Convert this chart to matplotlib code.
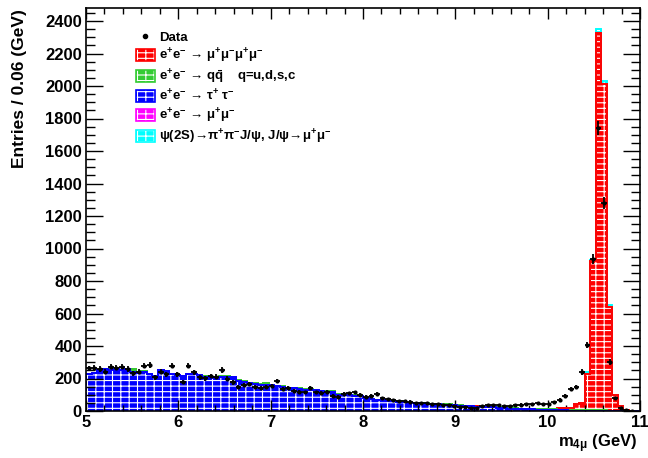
import matplotlib
matplotlib.use("Agg")
import matplotlib.pyplot as plt
import numpy as np
from matplotlib.patches import Patch
from matplotlib.lines import Line2D
from matplotlib.legend_handler import HandlerTuple
from matplotlib.ticker import MultipleLocator

plt.rcParams["font.family"] = ["Liberation Sans", "DejaVu Sans"]
plt.rcParams["font.weight"] = "bold"
plt.rcParams["mathtext.default"] = "regular"
plt.rcParams["hatch.color"] = "white"
plt.rcParams["hatch.linewidth"] = 0.8

# 100 bins of 0.06 GeV from 5 to 11 GeV
m_lo, m_hi, n_bins = 5.0, 11.0, 100

data = [
    262, 267, 258, 242, 272, 267, 272, 258, 232, 242,
    279, 283, 207, 242, 226, 279, 226, 177, 279, 238,
    207, 201, 215, 211, 252, 200, 176, 150, 160, 164,
    150, 140, 145, 156, 185, 135, 140, 125, 119, 115,
    140, 115, 110, 119, 94, 88, 105, 109, 115, 100,
    88, 95, 105, 80, 74, 66, 62, 60, 58, 47,
    47, 47, 45, 43, 39, 37, 30, 27, 27, 16,
    16, 31, 37, 37, 35, 30, 28, 35, 40, 42,
    45, 48, 45, 45, 55, 70, 95, 135, 150, 240,
    406, 935, 1741, 1280, 302, 80, 18, 5, 2, 0,
]
tautau = [
    225, 232, 250, 258, 255, 260, 252, 258, 238, 235,
    240, 225, 215, 250, 245, 225, 220, 215, 228, 225,
    220, 212, 208, 205, 210, 212, 208, 185, 180, 172,
    168, 162, 160, 160, 152, 150, 142, 140, 138, 132,
    130, 128, 122, 120, 115, 100, 100, 98, 95, 90,
    80, 72, 68, 65, 62, 60, 58, 55, 50, 48,
    46, 45, 42, 41, 40, 38, 35, 32, 30, 28,
    25, 24, 23, 22, 20, 17, 15, 14, 12, 11,
    10, 9, 8, 7, 6, 5, 4, 3, 3, 2,
    1, 1, 1, 1, 1, 0, 0, 0, 0, 0,
]
mumu = [0] * 100
qqbar = [
    2, 2, 3, 2, 3, 2, 2, 3, 20, 5,
    4, 3, 2, 3, 2, 3, 2, 3, 2, 3,
    2, 3, 2, 2, 3, 2, 2, 3, 2, 3,
    3, 4, 12, 3, 2, 3, 2, 3, 2, 2,
    3, 2, 3, 2, 8, 3, 2, 2, 3, 2,
    2, 2, 2, 2, 2, 2, 2, 2, 2, 2,
    2, 2, 2, 2, 2, 8, 2, 2, 2, 2,
    2, 2, 2, 2, 2, 2, 8, 6, 2, 2,
    3, 3, 3, 3, 4, 4, 3, 3, 3, 3,
    3, 3, 3, 3, 2, 2, 1, 1, 0, 0,
]
fourmu = [
    0, 0, 0, 0, 0, 0, 0, 0, 0, 0,
    0, 0, 0, 0, 0, 0, 0, 0, 0, 0,
    0, 0, 0, 0, 0, 0, 0, 0, 0, 0,
    0, 0, 0, 0, 0, 0, 0, 0, 0, 0,
    0, 0, 0, 0, 0, 0, 0, 0, 0, 0,
    0, 0, 0, 0, 0, 0, 0, 0, 0, 0,
    0, 0, 0, 0, 0, 0, 0, 0, 0, 0,
    1, 1, 1, 1, 1, 1, 1, 1, 1, 1,
    2, 2, 3, 3, 4, 8, 9, 11, 40, 42,
    225, 920, 2320, 2010, 640, 95, 30, 8, 3, 1,
]
psi2s = [
    0, 0, 0, 0, 0, 0, 0, 0, 0, 0,
    0, 0, 0, 0, 0, 0, 0, 0, 0, 0,
    0, 0, 0, 0, 0, 0, 0, 0, 0, 0,
    0, 0, 0, 0, 0, 0, 0, 0, 0, 0,
    0, 0, 0, 0, 0, 0, 0, 0, 0, 0,
    0, 0, 0, 0, 0, 0, 0, 0, 0, 0,
    0, 0, 0, 0, 0, 0, 0, 0, 0, 0,
    0, 0, 0, 0, 0, 0, 0, 0, 0, 0,
    0, 0, 0, 0, 0, 0, 0, 0, 0, 3,
    10, 5, 28, 15, 10, 2, 0, 0, 0, 0,
]

labels = [
    r"e$^{+}$e$^{-}$ → $\mu^{+}\mu^{-}\mu^{+}\mu^{-}$",
    r"e$^{+}$e$^{-}$ → q$\bar{q}$    q=u,d,s,c",
    r"e$^{+}$e$^{-}$ → $\tau^{+}$ $\tau^{-}$",
    r"e$^{+}$e$^{-}$ → $\mu^{+}\mu^{-}$",
    r"$\psi$(2S)→$\pi^{+}\pi^{-}$J/$\psi$, J/$\psi$→$\mu^{+}\mu^{-}$",
]
colors = {"4mu": "#ff0000", "qq": "#33cc33", "tt": "#0000ff", "mm": "#ff00ff", "psi": "#00ffff"}

edges = np.linspace(m_lo, m_hi, n_bins + 1)
centers = 0.5 * (edges[:-1] + edges[1:])

fig = plt.figure(figsize=(6.48, 4.58), dpi=100)
ax = fig.add_axes([86 / 648, 47 / 458, 554 / 648, 403 / 458])

hatch = "---||"
# stack bottom -> top
stack = [
    (tautau, colors["tt"]),
    (mumu, colors["mm"]),
    (qqbar, colors["qq"]),
    (fourmu, colors["4mu"]),
    (psi2s, colors["psi"]),
]
base = np.zeros(n_bins)
for vals, c in stack:
    top = base + np.asarray(vals, dtype=float)
    ax.stairs(top, edges, baseline=base, fill=True, facecolor=c, hatch=hatch, zorder=1)
    base = top
# outlines of the cumulative histograms, drawn top-down like a THStack
tops = np.cumsum([np.asarray(v, dtype=float) for v, _ in stack], axis=0)
for i in range(len(stack) - 1, -1, -1):
    ax.stairs(tops[i], edges, baseline=None, color=stack[i][1], lw=1.4, zorder=2)

d = np.asarray(data, dtype=float)
ok = d > 0
ax.errorbar(
    centers[ok], d[ok], xerr=0.03, yerr=np.sqrt(d[ok]),
    fmt="o", ms=2, color="black", elinewidth=1.3, capsize=0, zorder=5
)

ax.set_xlim(m_lo, m_hi)
ax.set_ylim(0, 2480)
ax.xaxis.set_major_locator(MultipleLocator(1))
ax.xaxis.set_minor_locator(MultipleLocator(0.2))
ax.yaxis.set_major_locator(MultipleLocator(200))
ax.yaxis.set_minor_locator(MultipleLocator(50))
ax.tick_params(which="both", direction="in", top=True, right=True, labelsize=12, width=1)
ax.tick_params(axis="x", which="major", length=8, pad=3)
ax.tick_params(axis="x", which="minor", length=4)
ax.tick_params(axis="y", which="major", length=12, pad=3)
ax.tick_params(axis="y", which="minor", length=6.5)
for s in ax.spines.values():
    s.set_linewidth(1.2)

fig.text(20 / 648, 1 - 9 / 458, "Entries / 0.06 (GeV)", rotation=90,
         ha="center", va="top", fontsize=12.5, fontweight="bold")
fig.text(637 / 648, 1 - 447 / 458, r"m$_{4\mu}$ (GeV)", ha="right",
         va="baseline", fontsize=12, fontweight="bold")

handles = [Line2D([], [], marker="o", ms=3, color="black", ls="none")]
for key in ["4mu", "qq", "tt", "mm", "psi"]:
    c = colors[key]
    handles.append((Patch(facecolor=c, hatch=hatch), Patch(fill=False, edgecolor=c, lw=1.2)))
ax.legend(
    handles, ["Data"] + labels, loc="upper left", bbox_to_anchor=(0.09, 0.944),
    frameon=False, fontsize=9.5, handlelength=1.45, handleheight=1.0,
    labelspacing=0.2, handletextpad=0.3, borderpad=0, borderaxespad=0,
    handler_map={tuple: HandlerTuple(ndivide=1, pad=0)},
)

fig.savefig("out.png", dpi=100)
